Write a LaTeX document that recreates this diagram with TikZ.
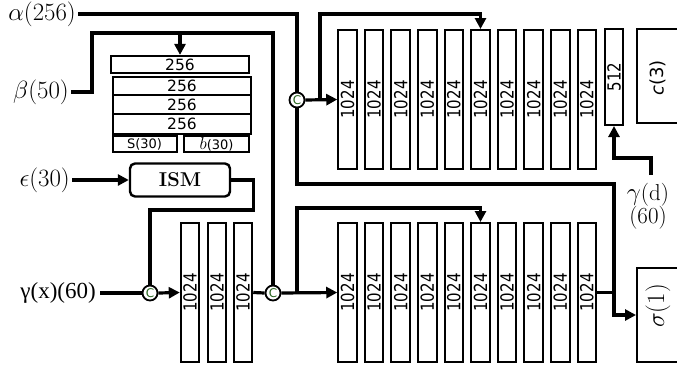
\documentclass[tikz,border=0pt]{standalone}
\usepackage{fontspec}
\usepackage{graphicx}
\usetikzlibrary{arrows.meta,calc}
\newfontfamily\dvs{DejaVu Sans}
\newfontfamily\lserif{Liberation Serif}
\definecolor{catgreen}{RGB}{40,100,30}
\begin{document}
\begin{tikzpicture}[x=1pt,y=-1pt,
  lay/.style={draw, line width=2pt, minimum width=18.5pt, minimum height=139pt, inner sep=0pt, font=\dvs\fontsize{15}{15}\selectfont},
  stk/.style={draw, line width=2.2pt, inner sep=0pt, font=\dvs\fontsize{15.5}{15.5}\selectfont},
  outbox/.style={draw, line width=2pt, inner sep=0pt},
  conn/.style={line width=3.2pt},
  arr/.style={line width=3.2pt, -{Triangle[length=11pt,width=11pt]}},
  cat/.style={circle, draw, line width=1.8pt, minimum size=15pt, inner sep=0pt, fill=white, text=catgreen, font=\dvs\fontsize{12}{12}\selectfont},
  lab/.style={inner sep=0pt, font=\fontsize{23}{25}\selectfont}
]
\useasboundingbox (0,0) rectangle (677,364);
\clip (0,0) rectangle (677,364);

% layer boxes
\foreach \i in {1,...,10} {
  \node[lay] (t\i) at ({347.5+26.6*(\i-1)},99.5) {\rotatebox{90}{\scalebox{1}[1.2]{1024}}};
  \node[lay] (b\i) at ({347.5+26.6*(\i-1)},292.5) {\rotatebox{90}{\scalebox{1}[1.2]{1024}}};
}
\node[lay] (l1) at (190,292.5) {\rotatebox{90}{\scalebox{1}[1.2]{1024}}};
\node[lay] (l2) at (217,292.5) {\rotatebox{90}{\scalebox{1}[1.2]{1024}}};
\node[lay] (l3) at (243,292.5) {\rotatebox{90}{\scalebox{1}[1.2]{1024}}};
\node[lay, minimum height=96pt] (s512) at (614,77) {\rotatebox{90}{\scalebox{1}[1.2]{512}}};

% output boxes
\node[outbox, minimum width=63pt, minimum height=94pt] (cbox) at (668.5,76) {};
\node[inner sep=0pt, font=\dvs\fontsize{18}{18}\selectfont] (ctext) at (658,78) {\rotatebox{90}{\textit{c}(3)}};
\node[outbox, minimum width=63pt, minimum height=94pt] (sig) at (668.5,315) {};
\node[inner sep=0pt, font=\fontsize{23}{23}\selectfont] (stext) at (658,306) {\rotatebox{90}{$\sigma(1)$}};

% stack
\node[stk, minimum width=138pt, minimum height=17pt] (s1) at (180,64.5) {256};
\node[stk, minimum width=138pt, minimum height=18pt] (s2) at (182,86) {256};
\node[stk, minimum width=138pt, minimum height=19pt] (s3) at (182,104.5) {256};
\node[stk, minimum width=138pt, minimum height=20pt] (s4) at (182,124) {256};
\node[stk, line width=2pt, minimum width=64pt, minimum height=16pt, font=\dvs\fontsize{13}{13}\selectfont] (sS) at (144.5,144) {S(30)};
\node[stk, line width=2pt, minimum width=65pt, minimum height=16pt, font=\dvs\fontsize{13}{13}\selectfont] (sb) at (216.5,144) {{\fontsize{17}{17}\selectfont$b$}(30)};

% ISM
\node[draw, line width=2.4pt, rounded corners=5pt, minimum width=100pt, minimum height=33pt, inner sep=0pt, font=\bfseries\fontsize{20}{20}\selectfont] (ism) at (180,180) {ISM};

% concat circles
\node[cat] (c1) at (297,100) {C};
\node[cat] (c2) at (273,293) {C};
\node[cat] (c3) at (150,293) {C};

% labels
\coordinate (aa) at (78,14);
\coordinate (bb) at (71,92);
\coordinate (ee) at (72,180);
\coordinate (gx) at (100,293);
\coordinate (gd) at (651,175);
\coordinate (k1) at (320,100);
\coordinate (k2) at (297,293);
\coordinate (jr) at (614,184);
\node[lab, anchor=east] (alpha) at ([xshift=-2pt]aa) {$\alpha(256)$};
\node[lab, anchor=east] (beta) at ([xshift=-2pt]bb) {$\beta(50)$};
\node[lab, anchor=east] (eps) at ([xshift=-2pt]ee) {$\epsilon(30)$};
\node[lab, anchor=east, font=\lserif\fontsize{23}{25}\selectfont] (gamx) at ([xshift=-4pt]gx) {γ(x)(60)};
\node[lab, align=center, font=\fontsize{23}{23}\selectfont] (gamd) at (648,206) {$\gamma$(d)\\(60)};

% connectors
\draw[conn] (aa) -| (c1.north);
\draw[arr] (c1.south) |- (jr) |- (sig.west);
\draw[arr] (c1.east) -- (t1.west);
\draw[arr] (k1) -- ++(0,-86) -| (t6.north);
\draw[conn] (bb) -- ++(21,0) -- ++(0,-59) -| (c2.north);
\draw[arr] (s1.north |- 0,33) -- (s1.north);
\draw[arr] (ee) -- (ism.west);
\draw[conn] (ism.east) -- ++(22,0) -- ++(0,30) -| (c3.north);
\draw[conn] (gx) -- (c3.west);
\draw[arr] (c3.east) -- (l1.west);
\draw[conn] (l3.east) -- (c2.west);
\draw[arr] (c2.east) -- (b1.west);
\draw[arr] (k2) -- ++(0,-85) -| (b6.north);
\draw[conn] (b10.east) -- (b10.east -| jr);
\draw[arr] (gd) -- ++(0,-17) -| (s512.south);
\end{tikzpicture}
\end{document}
